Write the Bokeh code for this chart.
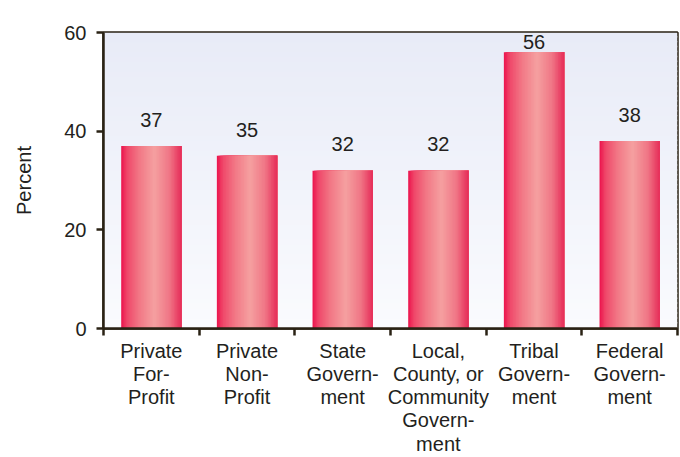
import numpy as np
from bokeh.plotting import figure
from bokeh.models import Range1d, FixedTicker, ColumnDataSource
from bokeh.core.properties import value
from bokeh.embed import file_html
from bokeh.resources import INLINE

categories = ["Private\nFor-\nProfit", "Private\nNon-\nProfit", "State\nGovern-\nment",
              "Local,\nCounty, or\nCommunity\nGovern-\nment", "Tribal\nGovern-\nment",
              "Federal\nGovern-\nment"]
percent = [37, 35, 32, 32, 56, 38]
y_ticks = [0, 20, 40, 60]

FONT = "Liberation Sans"
INK = "#231f20"
AXIS = "#2a2214"

p = figure(width=680, height=457, output_backend="svg", toolbar_location=None,
           x_range=Range1d(0, len(categories)), y_range=Range1d(0, 60),
           min_border_left=103, min_border_right=3, min_border_top=32, min_border_bottom=128)
p.background_fill_color = "white"
p.border_fill_color = "white"
p.xgrid.visible = False
p.ygrid.visible = False
p.outline_line_color = AXIS
p.outline_line_width = 2.5

# background vertical gradient
nb = 60
edges = np.linspace(0, 60, nb + 1)
top_c = np.array([232, 235, 247])
bot_c = np.array([250, 251, 254])
bg_cols = []
for i in range(nb):
    t = (edges[i] + edges[i + 1]) / 2 / 60
    c = bot_c + (top_c - bot_c) * t
    bg_cols.append("#%02x%02x%02x" % tuple(int(round(v)) for v in c))
p.quad(left=0, right=len(categories), bottom=edges[:-1], top=np.minimum(edges[1:] + 0.3, 60),
       fill_color=bg_cols, line_color=None)

# bars with horizontal gradient, drawn as overlapping strips (each runs to the bar's right edge)
stops_t = [0.0, 0.1, 0.3, 0.55, 0.8, 1.0]
stops_c = np.array([[236, 18, 76], [239, 72, 106], [242, 120, 134],
                    [245, 160, 160], [240, 118, 134], [230, 44, 88]])
N = 40
bar_w = 0.63
centers = np.arange(len(categories)) + 0.5
lefts, rights, tops, cols = [], [], [], []
for cx, v in zip(centers, percent):
    for k in range(N):
        t = (k + 0.5) / N
        c = [np.interp(t, stops_t, stops_c[:, j]) for j in range(3)]
        lefts.append(cx - bar_w / 2 + bar_w * k / N)
        rights.append(cx + bar_w / 2)
        tops.append(v)
        cols.append("#%02x%02x%02x" % tuple(int(round(u)) for u in c))
src = ColumnDataSource(dict(left=lefts, right=rights, top=tops, color=cols))
p.quad(left="left", right="right", top="top", bottom=0, fill_color="color",
       line_color=None, source=src)

# value labels
label_y = np.minimum(np.array(percent) + 5.3, 58.0)
p.text(x=centers, y=label_y, text=[str(v) for v in percent], text_align="center",
       text_baseline="middle", text_font=value(FONT), text_font_size="20px",
       text_color=INK)

# axes
p.yaxis.ticker = FixedTicker(ticks=y_ticks)
p.yaxis.axis_label = "Percent"
p.yaxis.axis_label_text_font = FONT
p.yaxis.axis_label_text_font_size = "20px"
p.yaxis.axis_label_text_font_style = "normal"
p.yaxis.axis_label_text_color = INK
p.yaxis.axis_label_standoff = 26
p.yaxis.major_label_text_font = FONT
p.yaxis.major_label_text_font_size = "20px"
p.yaxis.major_label_text_color = INK
p.yaxis.major_label_standoff = 10
p.yaxis.major_tick_out = 7
p.yaxis.major_tick_in = 0
p.yaxis.minor_tick_line_color = None
p.yaxis.axis_line_color = AXIS
p.yaxis.axis_line_width = 2.5
p.yaxis.major_tick_line_color = AXIS
p.yaxis.major_tick_line_width = 2.5

p.xaxis.ticker = FixedTicker(ticks=list(centers), minor_ticks=list(range(len(categories) + 1)))
p.xaxis.major_label_overrides = {float(c): lab for c, lab in zip(centers, categories)}
p.xaxis.major_label_text_font = FONT
p.xaxis.major_label_text_font_size = "20px"
p.xaxis.major_label_text_color = INK
p.xaxis.major_label_text_align = "center"
p.xaxis.major_label_text_line_height = 1.06
p.xaxis.major_label_standoff = 4
p.xaxis.major_tick_out = 0
p.xaxis.major_tick_in = 0
p.xaxis.major_tick_line_color = None
p.xaxis.minor_tick_out = 7
p.xaxis.minor_tick_in = 0
p.xaxis.minor_tick_line_color = AXIS
p.xaxis.minor_tick_line_width = 2.5
p.xaxis.axis_line_color = AXIS
p.xaxis.axis_line_width = 2.5

open("out.html", "w").write(file_html(p, INLINE))
